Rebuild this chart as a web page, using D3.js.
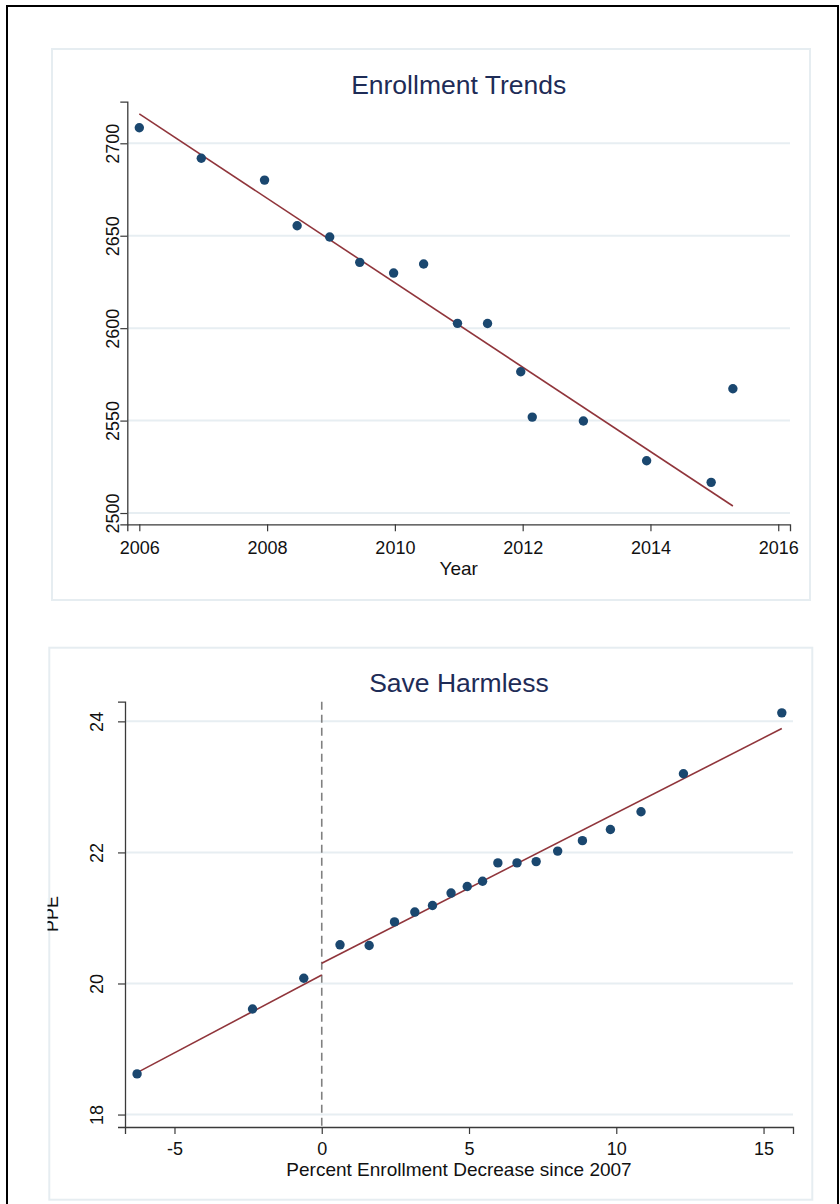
<!DOCTYPE html>
<html>
<head>
<meta charset="utf-8">
<script src="https://cdn.jsdelivr.net/npm/d3@7"></script>
<style>
  html, body { margin: 0; padding: 0; background: #fff; }
  svg { display: block; font-family: "Liberation Sans", Arial, sans-serif; }
</style>
</head>
<body>
<svg id="chart" width="840" height="1204"></svg>
<script>
// ---------- Data: Enrollment Trends ----------
const enrollYears  = [2006.0, 2006.97, 2007.96, 2008.47, 2008.98, 2009.45, 2009.98, 2010.45, 2010.98, 2011.45, 2011.97, 2012.15, 2012.95, 2013.94, 2014.95, 2015.29];
const enrollValues = [2708.4, 2691.9, 2680.1, 2655.4, 2649.3, 2635.6, 2629.8, 2634.7, 2602.6, 2602.5, 2576.4, 2551.9, 2549.8, 2528.3, 2516.6, 2567.2];
const enrollFitX   = [2006.0, 2015.29];
const enrollFitY   = [2715.9, 2503.8];
const enrollXTicks = [2006, 2008, 2010, 2012, 2014, 2016];
const enrollYTicks = [2500, 2550, 2600, 2650, 2700];

// ---------- Data: Save Harmless ----------
const shDecrease = [-6.27, -2.35, -0.61, 0.62, 1.61, 2.47, 3.16, 3.76, 4.39, 4.94, 5.46, 5.98, 6.63, 7.28, 8.01, 8.85, 9.80, 10.84, 12.28, 15.62];
const shPPE      = [18.62, 19.61, 20.08, 20.59, 20.58, 20.94, 21.09, 21.19, 21.38, 21.48, 21.56, 21.84, 21.84, 21.86, 22.02, 22.18, 22.35, 22.62, 23.20, 24.13];
const shFitLeftX  = [-6.27, 0];
const shFitLeftY  = [18.64, 20.13];
const shFitRightX = [0, 15.62];
const shFitRightY = [20.31, 23.89];
const shXTicks = [-5, 0, 5, 10, 15];
const shYTicks = [18, 20, 22, 24];

// ---------- Styles ----------
const NAVY = "#1a476f", MAROON = "#90353b", GRID = "#e7eef2", PANEL = "#e6edf1";
const TITLE_C = "#1e2c57", AXIS_C = "#3a3a3a";
const fmt = d => String(d);   // plain hyphen-minus like the reference

const svg = d3.select("#chart");

// outer frame
svg.append("rect").attr("x", 7).attr("y", 6).attr("width", 831).attr("height", 1215)
  .attr("fill", "none").attr("stroke", "#000").attr("stroke-width", 2);

function panel(cfg) {
  const g = svg.append("g");
  g.append("rect").attr("x", cfg.box[0]).attr("y", cfg.box[1])
    .attr("width", cfg.box[2]).attr("height", cfg.box[3])
    .attr("fill", "#fff").attr("stroke", PANEL).attr("stroke-width", 2);

  const x = d3.scaleLinear().domain(cfg.xDomain).range(cfg.xRange);
  const y = d3.scaleLinear().domain(cfg.yDomain).range(cfg.yRange);

  // title centred over the plot region
  g.append("text").attr("x", (cfg.xRange[0] + cfg.xRange[1]) / 2).attr("y", cfg.titleY)
    .attr("text-anchor", "middle").attr("font-size", 26.5).attr("fill", TITLE_C).text(cfg.title);

  // gridlines
  g.append("g").selectAll("line").data(cfg.yTicks).join("line")
    .attr("x1", cfg.xRange[0]).attr("x2", cfg.xRange[1])
    .attr("y1", d => y(d)).attr("y2", d => y(d))
    .attr("stroke", GRID).attr("stroke-width", 2);

  // y axis
  const yAxis = d3.axisLeft(y).tickValues(cfg.yTicks).tickSize(7).tickPadding(0).tickFormat(fmt);
  const ya = g.append("g").attr("transform", `translate(${cfg.xRange[0]},0)`).call(yAxis);
  ya.select(".domain").attr("stroke", AXIS_C).attr("stroke-width", 1.3);
  ya.selectAll(".tick line").attr("stroke", AXIS_C).attr("stroke-width", 1.2);
  ya.selectAll(".tick text")
    .attr("font-size", 18).attr("fill", "#111").attr("font-family", "Liberation Sans, Arial, sans-serif")
    .attr("text-anchor", "middle").attr("dy", null)
    .attr("x", null).attr("y", null)
    .attr("transform", `translate(${cfg.yLabelBase - cfg.xRange[0]},0) rotate(-90)`);

  // x axis
  const xAxis = d3.axisBottom(x).tickValues(cfg.xTicks).tickSize(7).tickPadding(0).tickFormat(fmt);
  const xa = g.append("g").attr("transform", `translate(0,${cfg.yRange[0]})`).call(xAxis);
  xa.select(".domain").attr("stroke", AXIS_C).attr("stroke-width", 1.3);
  xa.selectAll(".tick line").attr("stroke", AXIS_C).attr("stroke-width", 1.2);
  xa.selectAll(".tick text")
    .attr("font-size", 18).attr("fill", "#111").attr("font-family", "Liberation Sans, Arial, sans-serif")
    .attr("dy", null).attr("y", cfg.xLabelBase - cfg.yRange[0]);

  // x title
  g.append("text").attr("x", (cfg.xRange[0] + cfg.xRange[1]) / 2).attr("y", cfg.xTitleY).attr("text-anchor", "middle")
    .attr("font-size", 19).attr("fill", "#111").text(cfg.xTitle);

  return { g, x, y };
}

// ---------- Panel 1 ----------
const p1 = panel({
  box: [52, 49, 758, 551],
  title: "Enrollment Trends", titleY: 94,
  xDomain: [2005.812, 2016.184], xRange: [127.3, 790],
  yDomain: [2493.9, 2722.5], yRange: [524.3, 101.7],
  xTicks: enrollXTicks, yTicks: enrollYTicks,
  yLabelBase: 119, xLabelBase: 554.5,
  xTitle: "Year", xTitleY: 574.5
});
{
  const fit = enrollFitX.map((d, i) => [d, enrollFitY[i]]);
  p1.g.append("path").datum(fit)
    .attr("d", d3.line().x(d => p1.x(d[0])).y(d => p1.y(d[1])))
    .attr("fill", "none").attr("stroke", MAROON).attr("stroke-width", 1.6);
  p1.g.append("g").selectAll("circle").data(enrollYears.map((d, i) => [d, enrollValues[i]])).join("circle")
    .attr("cx", d => p1.x(d[0])).attr("cy", d => p1.y(d[1])).attr("r", 4.7).attr("fill", NAVY);
}

// ---------- Panel 2 ----------
const p2 = panel({
  box: [49.3, 647.7, 763, 552],
  title: "Save Harmless", titleY: 692,
  xDomain: [-6.68, 16.0], xRange: [125, 793],
  yDomain: [17.81, 24.30], yRange: [1127, 701.7],
  xTicks: shXTicks, yTicks: shYTicks,
  yLabelBase: 103, xLabelBase: 1155,
  xTitle: "Percent Enrollment Decrease since 2007", xTitleY: 1176
});
{
  // y title (clipped at the left as in the reference)
  svg.append("clipPath").attr("id", "ppeclip").append("rect")
    .attr("x", 47.5).attr("y", 850).attr("width", 40).attr("height", 130);
  p2.g.append("g").attr("clip-path", "url(#ppeclip)")
    .append("text")
    .attr("transform", "translate(57.5,914) rotate(-90)").attr("text-anchor", "middle")
    .attr("font-size", 18).attr("fill", "#111").text("PPE");

  // dashed reference line at x = 0
  p2.g.append("line")
    .attr("x1", p2.x(0)).attr("x2", p2.x(0))
    .attr("y1", p2.y.range()[1]).attr("y2", p2.y.range()[0])
    .attr("stroke", "#808080").attr("stroke-width", 1.6).attr("stroke-dasharray", "8,5");

  const line = d3.line().x(d => p2.x(d[0])).y(d => p2.y(d[1]));
  [[shFitLeftX, shFitLeftY], [shFitRightX, shFitRightY]].forEach(([xs, ys]) => {
    p2.g.append("path").datum(xs.map((d, i) => [d, ys[i]])).attr("d", line)
      .attr("fill", "none").attr("stroke", MAROON).attr("stroke-width", 1.6);
  });
  p2.g.append("g").selectAll("circle").data(shDecrease.map((d, i) => [d, shPPE[i]])).join("circle")
    .attr("cx", d => p2.x(d[0])).attr("cy", d => p2.y(d[1])).attr("r", 4.7).attr("fill", NAVY);
}
</script>
</body>
</html>
